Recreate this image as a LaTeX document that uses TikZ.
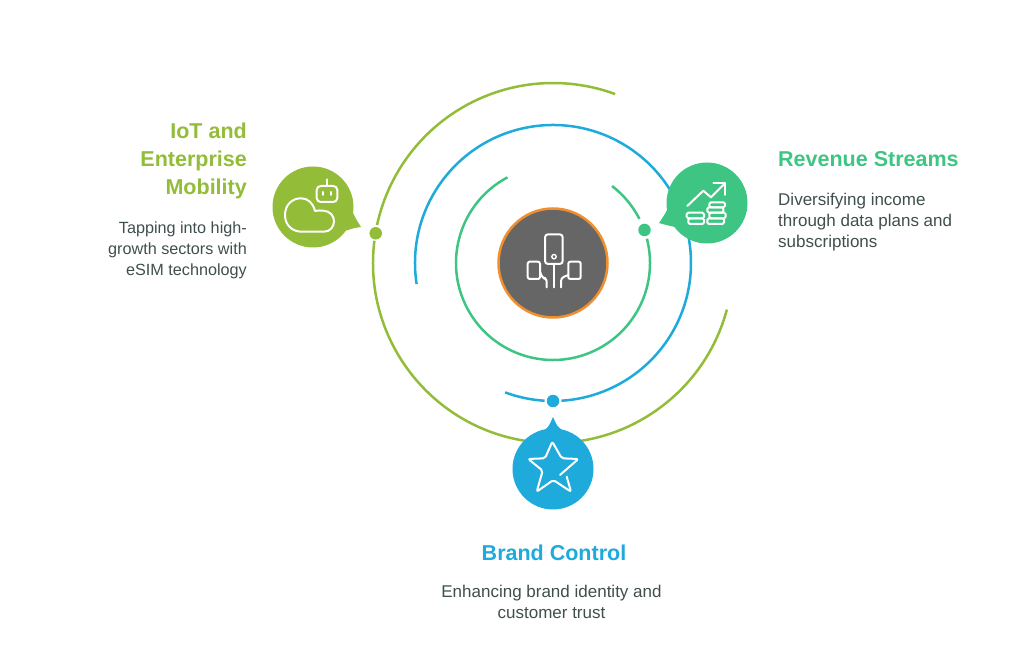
\documentclass[tikz,border=0pt]{standalone}
\usepackage{fontspec}
\setmainfont{Liberation Sans}
\usepackage{tikz}
\usetikzlibrary{positioning}

\definecolor{iotgreen}{HTML}{93BC38}
\definecolor{revgreen}{HTML}{3FC583}
\definecolor{brandblue}{HTML}{1EABDC}
\definecolor{hubgray}{HTML}{666666}
\definecolor{huborange}{HTML}{F08F2E}
\definecolor{bodytext}{HTML}{3F4F4D}

\tikzset{
    bubble/.style={circle, inner sep=0pt, minimum size=81pt},
    dotmark/.style={circle, inner sep=0pt, minimum size=12.5pt},
    ring/.style={line width=2.5pt},
    iconline/.style={draw=white, line width=2pt, line cap=round, line join=round},
    titletext/.style={font=\fontsize{21.5}{28}\selectfont\bfseries},
    bodylabel/.style={font=\fontsize{17}{21}\selectfont, text=bodytext}
}

\begin{document}
\begin{tikzpicture}[x=1pt, y=1pt]
    \useasboundingbox (0,0) rectangle (1024,666);

    % hub
    \node[circle, draw=huborange, line width=2.5pt, fill=hubgray, inner sep=0pt,
          minimum size=109pt] (hub) at (553,403) {};

    % rings
    \draw[ring, revgreen] ([shift={(118:97)}]hub.center) arc (118:374.5:97);
    \draw[ring, revgreen] ([shift={(27:97)}]hub.center) arc (27:52.5:97);
    \draw[ring, brandblue] ([shift={(188.8:138)}]hub.center) arc (188.8:-86.5:138);
    \draw[ring, brandblue] ([shift={(-93.5:138)}]hub.center) arc (-93.5:-110.3:138);
    \draw[ring, iotgreen] ([shift={(69.8:180)}]hub.center) arc (69.8:167.8:180);
    \draw[ring, iotgreen] ([shift={(172.9:180)}]hub.center) arc (172.9:345:180);

    % dots
    \node[dotmark, fill=iotgreen] (iotdot) at (375.7,432.7) {};
    \node[dotmark, fill=revgreen] (revdot) at (644.5,436) {};
    \node[dotmark, fill=brandblue] (branddot) at (553,265) {};

    % bubbles
    \fill[iotgreen] (353,453) .. controls (356,447) .. (361,439) .. controls (354,438) .. (345,435) -- cycle;
    \node[bubble, fill=iotgreen] (iot) at (313,459) {};
    \fill[revgreen] (668,458) .. controls (665,452) .. (659,443) .. controls (666,441) .. (675,439) -- cycle;
    \node[bubble, fill=revgreen] (rev) at (707,463) {};
    \fill[brandblue] (545,236) .. controls (549,240) .. (553,249) .. controls (557,240) .. (562,236) -- cycle;
    \node[bubble, fill=brandblue] (brand) at (553,197) {};

    % hub icon
    \draw[iconline, rounded corners=3pt] (545,402) rectangle (562.7,431.7);
    \draw[iconline, line width=1.4pt] (554,409.3) circle (2.2);
    \draw[iconline] (554,402) -- (554,378.7);
    \draw[iconline, rounded corners=2pt] (527.7,387) rectangle (540,404.3);
    \draw[iconline, rounded corners=2pt] (568.3,387) rectangle (580.7,404.3);
    \draw[iconline, rounded corners=3pt] (540,394.3) -- (542.5,387.7) -- (546.7,387.7) -- (546.7,378.7);
    \draw[iconline, rounded corners=3pt] (568.3,391) -- (561,388) -- (561,378.7);

    % cloud and robot icon
    \draw[iconline] (324,434.3) -- (301.7,434.3) .. controls (292,434.3) and (285,441) .. (285,451)
        .. controls (285,461) and (292,467.7) .. (301,467.7) .. controls (308,467.7) and (313,463) .. (315,455)
        .. controls (318,456) and (320,455.3) .. (323.5,455.3) .. controls (330,455) and (334,450) .. (334,445)
        .. controls (334,439) and (330,434.3) .. (324,434.3) -- cycle;
    \draw[iconline, rounded corners=4pt] (316.7,464) rectangle (337.3,480);
    \draw[iconline] (327,480) -- (327,486.7);
    \draw[iconline] (323.3,471) -- (323.3,474);
    \draw[iconline] (330.7,471) -- (330.7,474);

    % coins and arrow icon
    \draw[iconline] (687.3,460) -- (703.3,475.3) -- (711,468.7) -- (725,482.7);
    \draw[iconline] (713.3,482.7) -- (725,482.7) -- (725,471);
    \foreach \xa/\ya/\xb/\yb in {709.3/458.7/725/463.7, 707.3/453.3/723.3/458.7, 709.3/447.7/725.7/453.3,
                                 707.3/442/724/447.7, 686.7/447.7/704/453.3, 688.3/442/704/447.7} {
        \draw[iconline, rounded corners=1.5pt] (\xa,\ya) rectangle (\xb,\yb);
    }

    % star icon
    \draw[iconline, rounded corners=2pt] (560,191) -- (578.3,207) -- (561.7,207.7) -- (552.3,224.3)
        -- (545,207.7) -- (528.3,207) -- (542.7,195.3) -- (536.7,174.3) -- (553.3,186) -- (571,174.3) -- (566.7,189.3);

    % labels
    \node[titletext, text=iotgreen, align=right, anchor=east, inner sep=0pt] (iottitle) at (247,505) {IoT and\\Enterprise\\Mobility};
    \node[bodylabel, font=\fontsize{16.2}{21}\selectfont, align=right, anchor=east, inner sep=0pt] (iotbody) at (247,416) {Tapping into high-\\growth sectors with\\eSIM technology};
    \node[titletext, text=revgreen, anchor=west, inner sep=0pt] (revtitle) at (778,507) {Revenue Streams};
    \node[bodylabel, align=left, anchor=west, inner sep=0pt] (revbody) at (778,444) {Diversifying income\\through data plans and\\subscriptions};
    \node[titletext, text=brandblue, inner sep=0pt] (brandtitle) at (554,113) {Brand Control};
    \node[bodylabel, align=center, inner sep=0pt] (brandbody) at (551.5,64) {Enhancing brand identity and\\customer trust};
\end{tikzpicture}
\end{document}
